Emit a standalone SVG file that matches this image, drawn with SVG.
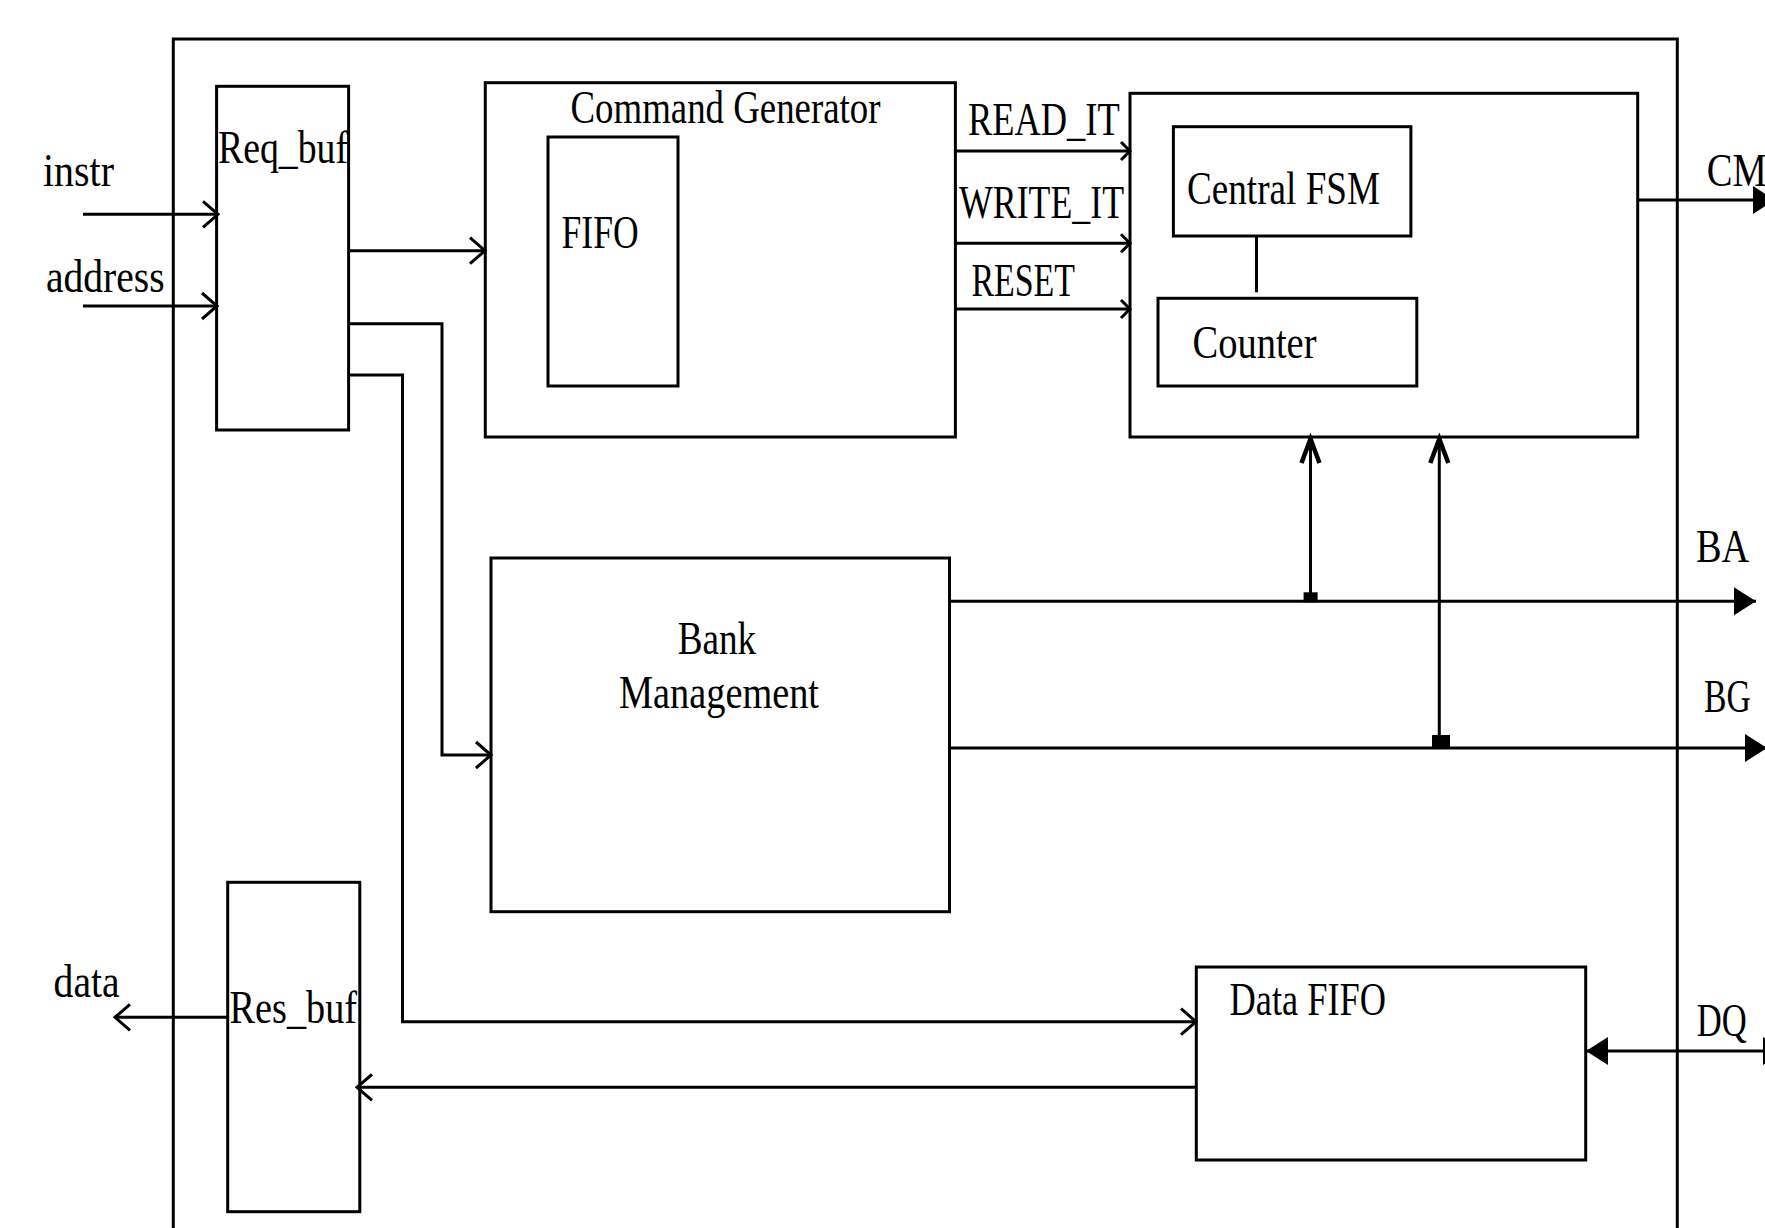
<svg xmlns="http://www.w3.org/2000/svg" width="1765" height="1228" viewBox="0 0 1765 1228">
<style>
  .box { fill: none; stroke: #000; stroke-width: 3; }
  .ln { fill: none; stroke: #000; stroke-width: 3; }
  .t { font-family: "Liberation Serif", "Times New Roman", serif; font-size: 46px; fill: #000; }
</style>
<defs>
  <marker id="arrOpen" markerUnits="userSpaceOnUse" viewBox="-30 -20 40 40" markerWidth="40" markerHeight="40" refX="0" refY="0" orient="auto" overflow="visible">
    <path d="M-15,-13 L0,0 L-15,13" fill="none" stroke="#000" stroke-width="3"/>
  </marker>
  <marker id="arrOpenS" markerUnits="userSpaceOnUse" viewBox="-30 -20 40 40" markerWidth="40" markerHeight="40" refX="0" refY="0" orient="auto" overflow="visible">
    <path d="M-9,-9 L0,0 L-9,9" fill="none" stroke="#000" stroke-width="3"/>
  </marker>
  <marker id="arrUp" markerUnits="userSpaceOnUse" viewBox="-30 -20 40 40" markerWidth="40" markerHeight="40" refX="0" refY="0" orient="auto" overflow="visible">
    <path d="M-26,-9 L-2,0 L-26,9" fill="none" stroke="#000" stroke-width="4.5"/>
  </marker>
  <marker id="arrFill" markerUnits="userSpaceOnUse" viewBox="-30 -20 40 40" markerWidth="40" markerHeight="40" refX="0" refY="0" orient="auto-start-reverse" overflow="visible">
    <path d="M-22,-14 L0,0 L-22,14 Z" fill="#000"/>
  </marker>
</defs>
<rect width="1765" height="1228" fill="#fff"/>

<g id="outer">
  <path class="box" d="M173.3,1230 V39 H1677.3 V1230"/>
</g>

<g id="req_buf">
  <rect class="box" x="216.6" y="86.3" width="132" height="343.7"/>
  <text class="t" x="218" y="163" textLength="130" lengthAdjust="spacingAndGlyphs">Req_buf</text>
</g>

<g id="command_generator">
  <rect class="box" x="485.3" y="82.7" width="470.1" height="354.3"/>
  <text class="t" x="570.5" y="123.3" textLength="310" lengthAdjust="spacingAndGlyphs">Command Generator</text>
</g>

<g id="fifo">
  <rect class="box" x="548" y="137" width="130" height="249"/>
  <text class="t" x="561.6" y="248.3" textLength="77" lengthAdjust="spacingAndGlyphs">FIFO</text>
</g>

<g id="central">
  <rect class="box" x="1130" y="93.3" width="507.7" height="343.7"/>
</g>

<g id="central_fsm">
  <rect class="box" x="1173.4" y="126.7" width="237.5" height="109.3"/>
  <text class="t" x="1187" y="204" textLength="193" lengthAdjust="spacingAndGlyphs">Central FSM</text>
</g>

<g id="counter">
  <rect class="box" x="1158" y="298.3" width="258.8" height="87.7"/>
  <text class="t" x="1192.5" y="357.7" textLength="124" lengthAdjust="spacingAndGlyphs">Counter</text>
</g>

<g id="bank_management">
  <rect class="box" x="491" y="558" width="458.5" height="353.7"/>
  <text class="t" x="677.7" y="654" textLength="78.5" lengthAdjust="spacingAndGlyphs">Bank</text>
  <text class="t" x="619" y="708.3" textLength="200" lengthAdjust="spacingAndGlyphs">Management</text>
</g>

<g id="res_buf">
  <rect class="box" x="227.7" y="882.3" width="132.1" height="329.4"/>
  <text class="t" x="229.5" y="1022.7" textLength="127.5" lengthAdjust="spacingAndGlyphs">Res_buf</text>
</g>

<g id="data_fifo">
  <rect class="box" x="1196.3" y="967" width="389.4" height="193"/>
  <text class="t" x="1229.6" y="1015" textLength="156.4" lengthAdjust="spacingAndGlyphs">Data FIFO</text>
</g>

<g id="labels">
  <text class="t" x="43" y="186" textLength="71" lengthAdjust="spacingAndGlyphs">instr</text>
  <text class="t" x="46" y="291.7" textLength="118.6" lengthAdjust="spacingAndGlyphs">address</text>
  <text class="t" x="968" y="135" textLength="151.7" lengthAdjust="spacingAndGlyphs">READ_IT</text>
  <text class="t" x="959" y="218.3" textLength="165" lengthAdjust="spacingAndGlyphs">WRITE_IT</text>
  <text class="t" x="971.4" y="296" textLength="103.6" lengthAdjust="spacingAndGlyphs">RESET</text>
  <text class="t" x="1706.7" y="186" textLength="60" lengthAdjust="spacingAndGlyphs">CM</text>
  <text class="t" x="1696" y="562.3" textLength="53.3" lengthAdjust="spacingAndGlyphs">BA</text>
  <text class="t" x="1704" y="712.3" textLength="46.7" lengthAdjust="spacingAndGlyphs">BG</text>
  <text class="t" x="1696.7" y="1036" textLength="50" lengthAdjust="spacingAndGlyphs">DQ</text>
  <text class="t" x="53.6" y="996.7" textLength="66" lengthAdjust="spacingAndGlyphs">data</text>
</g>

<g id="connectors">
  <path class="ln" d="M83,214.3 H218" marker-end="url(#arrOpen)"/>
  <path class="ln" d="M83,306 H217" marker-end="url(#arrOpen)"/>
  <path class="ln" d="M348.6,250.7 H485" marker-end="url(#arrOpen)"/>
  <path class="ln" d="M348.6,323.7 H442 V755 H491" marker-end="url(#arrOpen)"/>
  <path class="ln" d="M348.6,375 H402.5 V1021.7 H1196" marker-end="url(#arrOpen)"/>
  <path class="ln" d="M1196,1087.3 H357" marker-end="url(#arrOpen)"/>
  <path class="ln" d="M227.7,1017.3 H115" marker-end="url(#arrOpen)"/>
  <path class="ln" d="M955.4,151 H1130" marker-end="url(#arrOpenS)"/>
  <path class="ln" d="M955.4,243.3 H1130" marker-end="url(#arrOpenS)"/>
  <path class="ln" d="M955.4,309 H1130" marker-end="url(#arrOpenS)"/>
  <path class="ln" d="M1256.5,236 V292.3"/>
  <path class="ln" d="M1637.7,200 H1775" marker-end="url(#arrFill)"/>
  <path class="ln" d="M949.5,601.3 H1756" marker-end="url(#arrFill)"/>
  <path class="ln" d="M949.5,748 H1767" marker-end="url(#arrFill)"/>
  <path class="ln" d="M1586,1051 H1785" marker-start="url(#arrFill)" marker-end="url(#arrFill)"/>
  <path class="ln" d="M1310.5,601 V437" marker-end="url(#arrUp)"/>
  <path class="ln" d="M1439.3,748 V437" marker-end="url(#arrUp)"/>
  <rect x="1303.6" y="592.3" width="14" height="10" fill="#000"/>
  <rect x="1432" y="735" width="18" height="14" fill="#000"/>
</g>
</svg>
